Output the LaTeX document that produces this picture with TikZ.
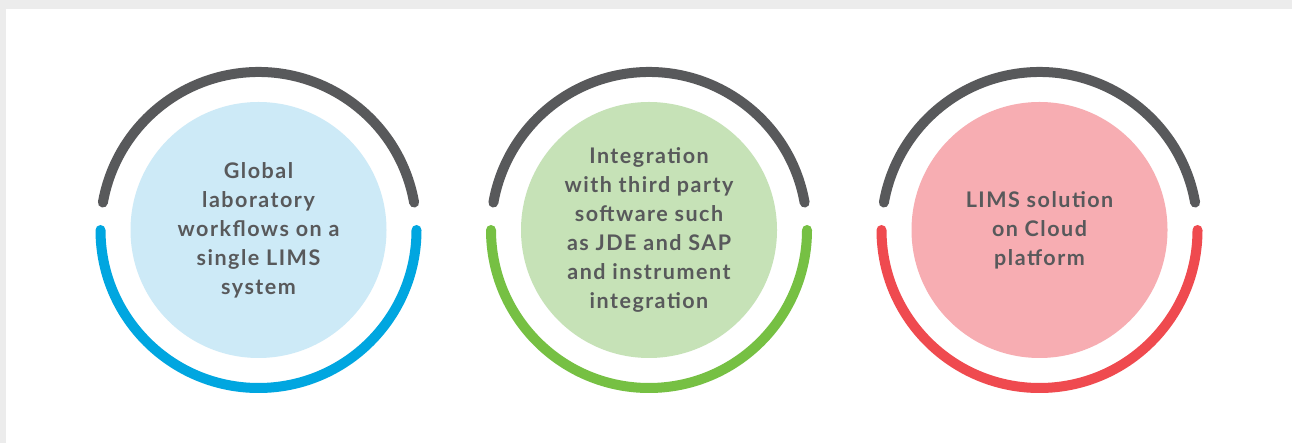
\documentclass[tikz,border=0pt]{standalone}
\usepackage{fontspec}
\setmainfont{Lato}
\newfontfamily\lbl[LetterSpace=7]{Lato}
\usetikzlibrary{calc}
\definecolor{bgstrip}{HTML}{ECECEC}
\definecolor{arcgray}{HTML}{58595B}
\definecolor{txtgray}{HTML}{58595B}
\definecolor{blueA}{HTML}{00A6E0}
\definecolor{blueF}{HTML}{CDEAF7}
\definecolor{greenA}{HTML}{76C043}
\definecolor{greenF}{HTML}{C6E2B7}
\definecolor{redA}{HTML}{EF4A4F}
\definecolor{redF}{HTML}{F7ADB2}
\tikzset{
  disc/.style={circle, inner sep=0pt, minimum size=256pt, align=center,
    text=txtgray, font=\lbl\fontsize{21.5}{29}\selectfont\bfseries},
  toparc/.style={draw=arcgray, line width=10pt, line cap=round},
  botarc/.style={line width=10pt, line cap=round},
}
\begin{document}
\begin{tikzpicture}[x=1pt,y=1pt]
\fill[bgstrip] (0,0) rectangle (1292,443);
\fill[white] (6,0) rectangle (1292,434);
\useasboundingbox (0,0) rectangle (1292,443);
\foreach \cx/\fc/\ac/\nm in {258.5/blueF/blueA/a, 649/greenF/greenA/b, 1039.5/redF/redA/c}{
  \coordinate (ctr\nm) at (\cx,213);
  \draw[toparc] ($(ctr\nm)+(10:158)$) arc[start angle=10, end angle=170, radius=158];
  \draw[botarc, draw=\ac] ($(ctr\nm)+(180:158)$) arc[start angle=180, end angle=360, radius=158];
}
\node[disc, fill=blueF] (d1) at (ctra) {Global\\laboratory\\workflows on a\\single LIMS\\system};
\node[disc, fill=greenF] (d2) at (ctrb) {Integration\\with third party\\software such\\as JDE and SAP\\and instrument\\integration};
\node[disc, fill=redF] (d3) at (ctrc) {LIMS solution\\on Cloud\\platform};
\end{tikzpicture}
\end{document}
